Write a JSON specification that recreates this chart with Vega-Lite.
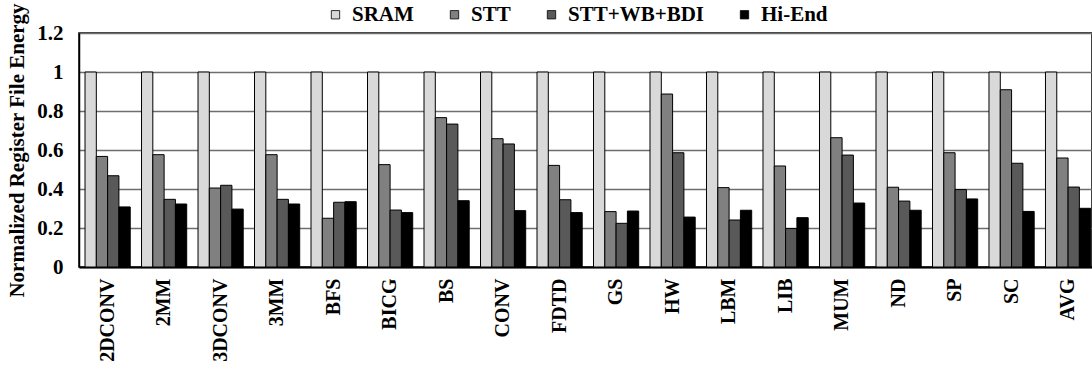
{
  "$schema": "https://vega.github.io/schema/vega-lite/v6.json",
  "width": 1013,
  "height": 234,
  "autosize": {"type": "none"},
  "padding": {"left": 79, "top": 33, "right": 0, "bottom": 106},
  "background": "white",
  "config": {
    "font": "Liberation Serif",
    "view": {"stroke": "black", "strokeWidth": 1.5},
    "axis": {"labelFont": "Liberation Serif", "titleFont": "Liberation Serif", "labelFontWeight": "bold", "titleFontWeight": "bold", "labelColor": "black", "titleColor": "black"},
    "legend": {"labelFont": "Liberation Serif", "labelFontWeight": "bold"}
  },
  "data": {
    "values": [
      {"bench": "2DCONV", "SRAM": 1, "STT": 0.567, "STT+WB+BDI": 0.468, "Hi-End": 0.308},
      {"bench": "2MM", "SRAM": 1, "STT": 0.576, "STT+WB+BDI": 0.347, "Hi-End": 0.323},
      {"bench": "3DCONV", "SRAM": 1, "STT": 0.405, "STT+WB+BDI": 0.419, "Hi-End": 0.297},
      {"bench": "3MM", "SRAM": 1, "STT": 0.576, "STT+WB+BDI": 0.347, "Hi-End": 0.323},
      {"bench": "BFS", "SRAM": 1, "STT": 0.25, "STT+WB+BDI": 0.332, "Hi-End": 0.335},
      {"bench": "BICG", "SRAM": 1, "STT": 0.525, "STT+WB+BDI": 0.292, "Hi-End": 0.279},
      {"bench": "BS", "SRAM": 1, "STT": 0.766, "STT+WB+BDI": 0.733, "Hi-End": 0.34},
      {"bench": "CONV", "SRAM": 1, "STT": 0.658, "STT+WB+BDI": 0.631, "Hi-End": 0.289},
      {"bench": "FDTD", "SRAM": 1, "STT": 0.521, "STT+WB+BDI": 0.345, "Hi-End": 0.279},
      {"bench": "GS", "SRAM": 1, "STT": 0.284, "STT+WB+BDI": 0.224, "Hi-End": 0.287},
      {"bench": "HW", "SRAM": 1, "STT": 0.887, "STT+WB+BDI": 0.586, "Hi-End": 0.256},
      {"bench": "LBM", "SRAM": 1, "STT": 0.407, "STT+WB+BDI": 0.241, "Hi-End": 0.291},
      {"bench": "LIB", "SRAM": 1, "STT": 0.518, "STT+WB+BDI": 0.197, "Hi-End": 0.253},
      {"bench": "MUM", "SRAM": 1, "STT": 0.663, "STT+WB+BDI": 0.574, "Hi-End": 0.328},
      {"bench": "ND", "SRAM": 1, "STT": 0.409, "STT+WB+BDI": 0.338, "Hi-End": 0.291},
      {"bench": "SP", "SRAM": 1, "STT": 0.586, "STT+WB+BDI": 0.397, "Hi-End": 0.349},
      {"bench": "SC", "SRAM": 1, "STT": 0.909, "STT+WB+BDI": 0.532, "Hi-End": 0.285},
      {"bench": "AVG", "SRAM": 1, "STT": 0.559, "STT+WB+BDI": 0.41, "Hi-End": 0.301}
    ]
  },
  "transform": [
    {"fold": ["SRAM", "STT", "STT+WB+BDI", "Hi-End"], "as": ["config", "energy"]}
  ],
  "mark": {"type": "bar", "stroke": "black", "strokeWidth": 1},
  "encoding": {
    "x": {
      "field": "bench", "type": "nominal", "sort": null,
      "scale": {"paddingInner": 0.2, "paddingOuter": 0.065, "align": 0.82},
      "axis": {"title": null, "labelAngle": 270, "labelFontSize": 20, "labelPadding": 11, "ticks": false, "domainColor": "black", "domainWidth": 2, "grid": false}
    },
    "xOffset": {
      "field": "config", "type": "nominal",
      "sort": ["SRAM", "STT", "STT+WB+BDI", "Hi-End"],
      "scale": {"paddingInner": 0, "paddingOuter": 0}
    },
    "y": {
      "field": "energy", "type": "quantitative",
      "scale": {"domain": [0, 1.2], "nice": false},
      "axis": {
        "title": "Normalized Register File Energy",
        "titleFontSize": 21, "titlePadding": 9,
        "values": [0, 0.2, 0.4, 0.6, 0.8, 1, 1.2], "format": "~g",
        "labelFontSize": 21, "labelPadding": 16, "ticks": false, "tickSize": 0,
        "domainColor": "black", "domainWidth": 1.5,
        "grid": true, "gridColor": "#6e6e6e", "gridWidth": 1.5
      }
    },
    "color": {
      "field": "config", "type": "nominal",
      "sort": ["SRAM", "STT", "STT+WB+BDI", "Hi-End"],
      "scale": {"domain": ["SRAM", "STT", "STT+WB+BDI", "Hi-End"], "range": ["#d9d9d9", "#808080", "#595959", "#000000"]},
      "legend": {
        "title": null, "orient": "none", "direction": "horizontal",
        "legendX": 246, "legendY": -29, "padding": 0,
        "symbolType": "square", "symbolSize": 70, "symbolStrokeColor": "black", "symbolStrokeWidth": 0.8,
        "labelFontSize": 21, "labelColor": "black", "labelOffset": 6, "columnPadding": 30, "labelLimit": 300
      }
    }
  }
}
